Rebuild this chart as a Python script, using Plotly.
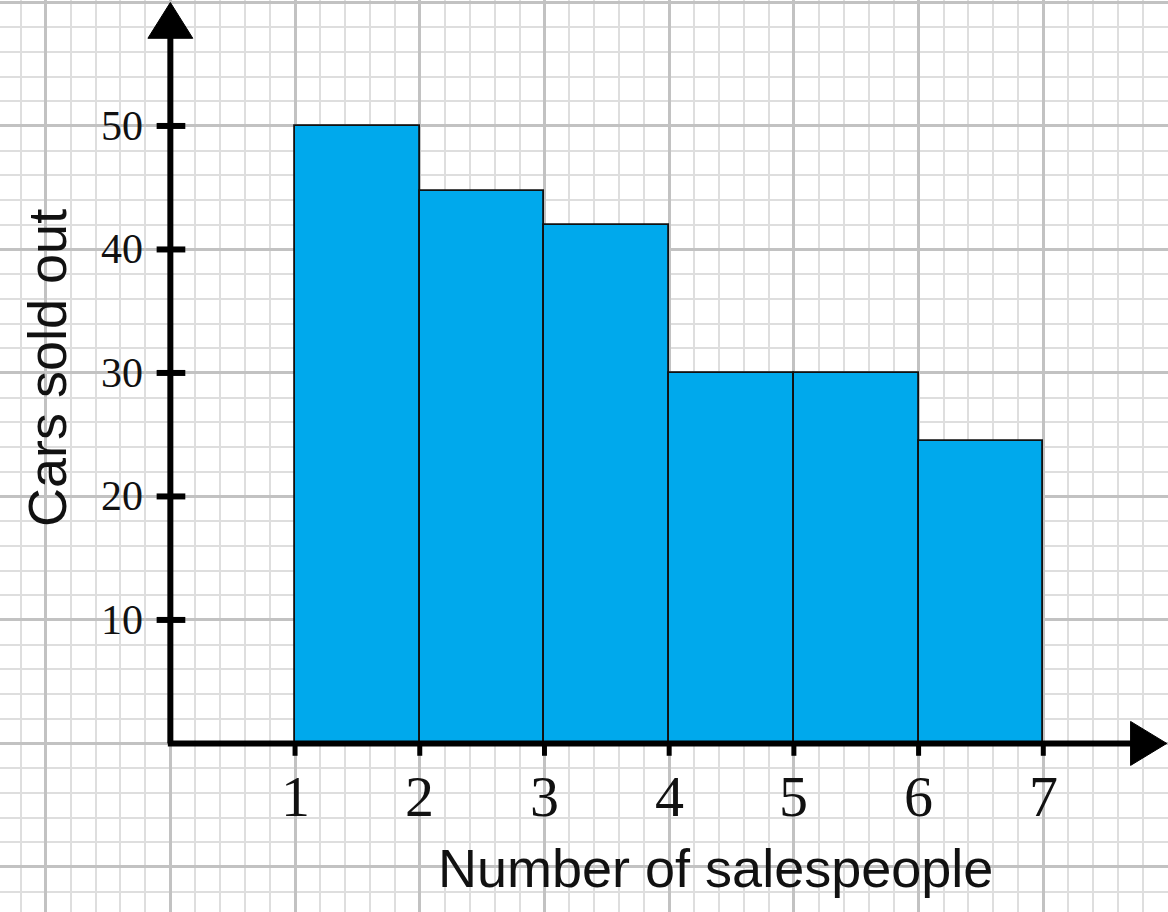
import plotly.graph_objects as go

# histogram data
bin_edges = [1, 2, 3, 4, 5, 6, 7]
cars_sold = [50, 44.7, 42, 30, 30, 24.5]
x_ticks = [1, 2, 3, 4, 5, 6, 7]
y_ticks = [10, 20, 30, 40, 50]

BAR_COLOR = "#00A9EC"
X_RANGE = [-1.366, 8.0]
Y_RANGE = [-13.65, 60.2]

centers = [(a + b) / 2 for a, b in zip(bin_edges[:-1], bin_edges[1:])]
widths = [b - a for a, b in zip(bin_edges[:-1], bin_edges[1:])]

fig = go.Figure()
fig.add_trace(go.Bar(
    x=centers, y=cars_sold, width=widths,
    marker=dict(color=BAR_COLOR, line=dict(color="#111111", width=1.8)),
    showlegend=False, hoverinfo="skip",
))

# axis lines with arrows
axis_col = "black"
shapes = [
    dict(type="line", x0=0, y0=0, x1=0, y1=57.3, line=dict(color=axis_col, width=6)),
    dict(type="line", x0=-0.02, y0=0, x1=7.75, y1=0, line=dict(color=axis_col, width=6)),
    dict(type="path", path="M -0.18 57.1 L 0.18 57.1 L 0 60.0 Z",
         fillcolor=axis_col, line=dict(color=axis_col, width=1)),
    dict(type="path", path="M 7.70 1.78 L 7.70 -1.78 L 7.99 0 Z",
         fillcolor=axis_col, line=dict(color=axis_col, width=1)),
]
for v in y_ticks:
    shapes.append(dict(type="line", x0=-0.11, x1=0.12, y0=v, y1=v,
                       line=dict(color=axis_col, width=6)))
for v in x_ticks:
    shapes.append(dict(type="line", x0=v, x1=v, y0=0, y1=-1.0,
                       line=dict(color=axis_col, width=5)))

annotations = []
for v in y_ticks:
    annotations.append(dict(x=-0.2, y=v, text=str(v), showarrow=False,
                            xanchor="right", yanchor="middle",
                            font=dict(family="Liberation Serif", size=42, color="#111111")))
for v in x_ticks:
    annotations.append(dict(x=v, y=-4.3, text=str(v), showarrow=False,
                            xanchor="center", yanchor="middle",
                            font=dict(family="Liberation Serif", size=58, color="#111111")))

annotations.append(dict(x=715 / 1168, y=1 - 868 / 912, xref="paper", yref="paper",
                        text="Number of salespeople", showarrow=False,
                        xanchor="center", yanchor="middle",
                        font=dict(family="Liberation Sans", size=54, color="#111111")))
annotations.append(dict(x=47 / 1168, y=1 - 368 / 912, xref="paper", yref="paper",
                        text="Cars sold out", showarrow=False, textangle=-90,
                        xanchor="center", yanchor="middle",
                        font=dict(family="Liberation Sans", size=54, color="#111111")))

fig.update_layout(
    width=1168, height=912, autosize=False,
    margin=dict(l=0, r=0, t=0, b=0),
    paper_bgcolor="white", plot_bgcolor="white",
    shapes=shapes, annotations=annotations,
    bargap=0,
)
fig.update_xaxes(range=X_RANGE, showticklabels=False, ticks="", zeroline=False,
                 showgrid=True, tick0=0, dtick=1, gridcolor="#c2c2c2", gridwidth=2.5,
                 minor=dict(tick0=0, dtick=0.2, showgrid=True, gridcolor="#dedede", gridwidth=2))
fig.update_yaxes(range=Y_RANGE, showticklabels=False, ticks="", zeroline=False,
                 showgrid=True, tick0=0, dtick=10, gridcolor="#c2c2c2", gridwidth=2.5,
                 minor=dict(tick0=0, dtick=2, showgrid=True, gridcolor="#dedede", gridwidth=2))

# drop the default page margin so the figure fills the window
fig.write_html("out.html", config={"displayModeBar": False},
               post_script="document.body.style.margin='0';")
